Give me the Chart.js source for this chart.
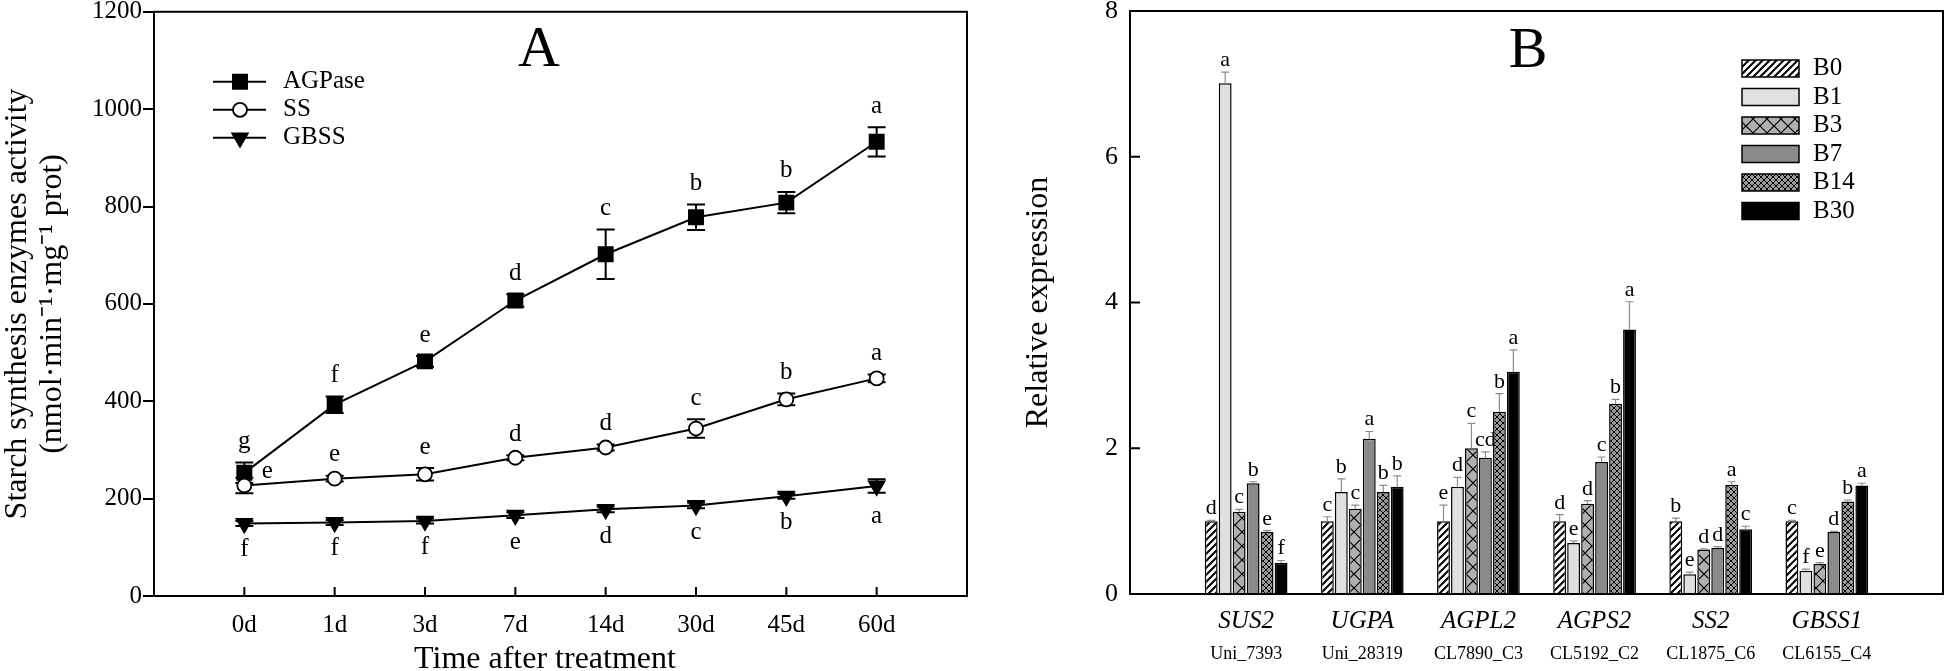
<!DOCTYPE html>
<html>
<head>
<meta charset="utf-8">
<script src="https://cdn.jsdelivr.net/npm/chart.js@4.4.1/dist/chart.umd.min.js"></script>
<style>
  html, body { margin: 0; padding: 0; background: #fff; }
  #wrap { position: relative; width: 1946px; height: 671px; }
  #chartA { position: absolute; left: 0; top: 0; }
  #chartB { position: absolute; left: 990px; top: 0; }
</style>
</head>
<body>
<div id="wrap">
  <canvas id="chartA" width="990" height="671"></canvas>
  <canvas id="chartB" width="956" height="671"></canvas>
</div>
<script>
// Panel A data - starch synthesis enzyme activity
const days = ['0d', '1d', '3d', '7d', '14d', '30d', '45d', '60d'];
const yTicksA = [0, 200, 400, 600, 800, 1000, 1200];
const agpase = [253, 393, 482, 607, 702, 778, 808, 933];
const agpaseErr = [21, 17, 11, 13, 51, 26, 22, 30];
const agpaseSig = ['g', 'f', 'e', 'd', 'c', 'b', 'b', 'a'];
const ss = [227, 241, 250, 284, 305, 344, 404, 447];
const ssErr = [16, 6, 13, 5, 6, 19, 12, 8];
const ssSig = ['e', 'e', 'e', 'd', 'd', 'c', 'b', 'a'];
const gbss = [149, 151, 154, 166, 178, 186, 205, 226];
const gbssErr = [5, 5, 5, 6, 6, 6, 5, 14];
const gbssSig = ['f', 'f', 'f', 'e', 'd', 'c', 'b', 'a'];

// Panel B data - relative expression per treatment, one value per gene
const genes = ['SUS2', 'UGPA', 'AGPL2', 'AGPS2', 'SS2', 'GBSS1'];
const geneIds = ['Uni_7393', 'Uni_28319', 'CL7890_C3', 'CL5192_C2', 'CL1875_C6', 'CL6155_C4'];
const treatments = ['B0', 'B1', 'B3', 'B7', 'B14', 'B30'];
const yTicksB = [0, 2, 4, 6, 8];
const exprB0 = [1.00, 1.00, 1.00, 1.00, 1.00, 1.00];
const exprB1 = [7.01, 1.40, 1.47, 0.70, 0.27, 0.32];
const exprB3 = [1.13, 1.17, 2.00, 1.24, 0.61, 0.41];
const exprB7 = [1.52, 2.13, 1.87, 1.81, 0.63, 0.85];
const exprB14 = [0.85, 1.40, 2.50, 2.61, 1.50, 1.27];
const exprB30 = [0.43, 1.47, 3.05, 3.63, 0.89, 1.49];
const errB0 = [0.01, 0.06, 0.22, 0.09, 0.04, 0.01];
const errB1 = [0.15, 0.18, 0.13, 0.03, 0.03, 0.02];
const errB3 = [0.03, 0.05, 0.34, 0.04, 0.01, 0.02];
const errB7 = [0.02, 0.10, 0.08, 0.07, 0.02, 0.01];
const errB14 = [0.02, 0.09, 0.25, 0.06, 0.04, 0.02];
const errB30 = [0.03, 0.15, 0.30, 0.38, 0.04, 0.03];
const sigB0 = ['d', 'c', 'e', 'd', 'b', 'c'];
const sigB1 = ['a', 'b', 'd', 'e', 'e', 'f'];
const sigB3 = ['c', 'c', 'c', 'd', 'd', 'e'];
const sigB7 = ['b', 'a', 'cd', 'c', 'd', 'd'];
const sigB14 = ['e', 'b', 'b', 'b', 'a', 'b'];
const sigB30 = ['f', 'b', 'a', 'a', 'c', 'a'];

const exprB = [exprB0, exprB1, exprB3, exprB7, exprB14, exprB30];
const errB = [errB0, errB1, errB3, errB7, errB14, errB30];
const sigB = [sigB0, sigB1, sigB3, sigB7, sigB14, sigB30];

const serif = '"Liberation Serif", "Times New Roman", serif';
Chart.defaults.font.family = serif;
Chart.defaults.color = '#000';

function pts(arr) {
  return arr.map((v, i) => ({ x: i, y: v }));
}

// fill patterns for the bars
function pattern(bg, size, lw, lines) {
  const c = document.createElement('canvas');
  c.width = size; c.height = size;
  const g = c.getContext('2d');
  g.fillStyle = bg;
  g.fillRect(0, 0, size, size);
  g.strokeStyle = '#000';
  g.lineWidth = lw;
  g.beginPath();
  lines(g, size);
  g.stroke();
  return g.createPattern(c, 'repeat');
}
const diag = (g, s) => {
  g.moveTo(0, s); g.lineTo(s, 0);
  g.moveTo(-2, 2); g.lineTo(2, -2);
  g.moveTo(s - 2, s + 2); g.lineTo(s + 2, s - 2);
};
const cross = (g, s) => {
  g.moveTo(0, 0); g.lineTo(s, s);
  g.moveTo(0, s); g.lineTo(s, 0);
};
const fills = [
  pattern('#fff', 7, 2, diag),
  '#e0e0e0',
  pattern('#b0b0b0', 14, 1.2, cross),
  '#8a8a8a',
  pattern('#9a9a9a', 6, 1, cross),
  '#000'
];

const seriesA = [
  { label: 'AGPase', vals: agpase, err: agpaseErr, sig: agpaseSig, style: 'rect', radius: 10, rot: 0, fill: '#000' },
  { label: 'SS', vals: ss, err: ssErr, sig: ssSig, style: 'circle', radius: 7, rot: 0, fill: '#fff' },
  { label: 'GBSS', vals: gbss, err: gbssErr, sig: gbssSig, style: 'triangle', radius: 9, rot: 180, fill: '#000' }
];

const panelA = {
  id: 'panelA',
  beforeDatasetsDraw(chart) {
    const { ctx, scales: { x, y } } = chart;
    ctx.save();
    ctx.strokeStyle = '#000';
    ctx.lineWidth = 2;
    seriesA.forEach(s => {
      s.vals.forEach((v, i) => {
        const px = x.getPixelForValue(i);
        const top = y.getPixelForValue(v + s.err[i]);
        const bot = y.getPixelForValue(v - s.err[i]);
        ctx.beginPath();
        ctx.moveTo(px, top); ctx.lineTo(px, bot);
        ctx.moveTo(px - 9, top); ctx.lineTo(px + 9, top);
        ctx.moveTo(px - 9, bot); ctx.lineTo(px + 9, bot);
        ctx.stroke();
      });
    });
    ctx.restore();
  },
  afterDraw(chart) {
    const { ctx, chartArea: a, scales: { x, y } } = chart;
    ctx.save();
    ctx.strokeStyle = '#000';
    ctx.lineWidth = 2;
    ctx.strokeRect(a.left, a.top, a.right - a.left, a.bottom - a.top);
    // inward ticks on the time axis
    ctx.beginPath();
    days.forEach((d, i) => {
      const px = x.getPixelForValue(i);
      ctx.moveTo(px, a.bottom); ctx.lineTo(px, a.bottom - 9);
    });
    ctx.stroke();

    // significance letters
    ctx.fillStyle = '#000';
    ctx.font = '25px ' + serif;
    ctx.textAlign = 'center';
    ctx.textBaseline = 'middle';
    seriesA.forEach((s, k) => {
      s.vals.forEach((v, i) => {
        const px = x.getPixelForValue(i);
        if (k === 2) {
          ctx.fillText(s.sig[i], px, y.getPixelForValue(v - s.err[i]) + 24);
        } else if (k === 1 && i === 0) {
          ctx.fillText(s.sig[i], px + 23, y.getPixelForValue(v) - 14);
        } else {
          ctx.fillText(s.sig[i], px, y.getPixelForValue(v + s.err[i]) - 21);
        }
      });
    });

    // axis title, set a little left of centre as in the original
    ctx.font = '32px ' + serif;
    ctx.textBaseline = 'alphabetic';
    ctx.fillText('Time after treatment', a.left + 391, 668);

    ctx.font = '58px ' + serif;
    ctx.fillText('A', a.left + 385, a.top + 54);

    // legend
    ctx.font = '25px ' + serif;
    ctx.textAlign = 'left';
    ctx.textBaseline = 'middle';
    seriesA.forEach((s, k) => {
      const ly = a.top + 70 + k * 28;
      const lx = a.left + 59;
      ctx.lineWidth = 2;
      ctx.beginPath();
      ctx.moveTo(lx, ly); ctx.lineTo(lx + 53, ly);
      ctx.stroke();
      ctx.fillStyle = s.fill;
      ctx.lineWidth = 1.8;
      Chart.helpers.drawPoint(ctx, { pointStyle: s.style, radius: s.radius, rotation: s.rot, borderWidth: 1.8 }, lx + 27, ly);
      ctx.fillStyle = '#000';
      ctx.fillText(s.label, lx + 70, ly);
    });
    ctx.restore();
  }
};

new Chart(document.getElementById('chartA'), {
  type: 'line',
  data: {
    datasets: seriesA.map((s, k) => ({
      label: s.label,
      data: pts(s.vals),
      borderColor: '#000',
      borderWidth: 2,
      pointStyle: s.style,
      pointRadius: s.radius,
      pointRotation: s.rot,
      pointBackgroundColor: s.fill,
      pointBorderColor: '#000',
      pointBorderWidth: 1.8,
      order: [1, 0, 2][k]
    }))
  },
  options: {
    responsive: false,
    animation: false,
    layout: { padding: { left: 0, top: 11, right: 23, bottom: 0 } },
    plugins: { legend: { display: false }, tooltip: { enabled: false } },
    scales: {
      x: {
        type: 'linear',
        min: -1,
        max: days.length,
        afterBuildTicks: s => { s.ticks = days.map((d, i) => ({ value: i })); },
        afterFit: s => { s.height = 75; s.paddingLeft = 0; s.paddingRight = 0; },
        grid: { display: false, drawTicks: false },
        border: { display: false },
        ticks: { autoSkip: false, maxRotation: 0, padding: 14, font: { size: 25 }, callback: v => days[v] }
      },
      y: {
        min: yTicksA[0],
        max: yTicksA[yTicksA.length - 1],
        afterBuildTicks: s => { s.ticks = yTicksA.map(v => ({ value: v })); },
        afterFit: s => { s.width = 154; s.paddingTop = 0; s.paddingBottom = 0; },
        grid: { display: true, drawOnChartArea: false, drawTicks: true, tickLength: 11, color: '#000', lineWidth: 2 },
        border: { display: false },
        ticks: { padding: 1, font: { size: 25 }, callback: v => String(v) },
        title: {
          display: true,
          text: ['Starch synthesis enzymes activity', '(nmol\u00b7min\u207b\u00b9\u00b7mg\u207b\u00b9 prot)'],
          font: { size: 32, lineHeight: 1.1 },
          padding: { top: 0, bottom: 0 }
        }
      }
    }
  },
  plugins: [panelA]
});

const panelB = {
  id: 'panelB',
  afterDatasetsDraw(chart) {
    const { ctx, scales: { y } } = chart;
    ctx.save();
    ctx.font = '22px ' + serif;
    ctx.textAlign = 'center';
    ctx.textBaseline = 'alphabetic';
    exprB.forEach((vals, k) => {
      const meta = chart.getDatasetMeta(k);
      vals.forEach((v, g) => {
        const bar = meta.data[g + 1];
        const top = y.getPixelForValue(v + errB[k][g]);
        ctx.strokeStyle = '#8c8c8c';
        ctx.lineWidth = 1.2;
        ctx.beginPath();
        ctx.moveTo(bar.x, bar.y); ctx.lineTo(bar.x, top);
        ctx.moveTo(bar.x - 4, top); ctx.lineTo(bar.x + 4, top);
        ctx.stroke();
        ctx.fillStyle = '#000';
        ctx.fillText(sigB[k][g], bar.x, top - 6);
      });
    });
    ctx.restore();
  },
  afterDraw(chart) {
    const { ctx, chartArea: a, scales: { x, y } } = chart;
    ctx.save();
    ctx.strokeStyle = '#000';
    ctx.lineWidth = 2;
    ctx.strokeRect(a.left, a.top, a.right - a.left, a.bottom - a.top);
    ctx.beginPath();
    yTicksB.slice(1, -1).forEach(v => {
      const py = y.getPixelForValue(v);
      ctx.moveTo(a.left, py); ctx.lineTo(a.left + 10, py);
    });
    ctx.stroke();

    // accession ids under the gene names
    ctx.fillStyle = '#000';
    ctx.font = '18px ' + serif;
    ctx.textAlign = 'center';
    ctx.textBaseline = 'middle';
    geneIds.forEach((id, g) => ctx.fillText(id, x.getPixelForValue(g + 1), a.bottom + 60));

    ctx.font = '58px ' + serif;
    ctx.textBaseline = 'alphabetic';
    ctx.fillText('B', a.right - 415, a.top + 56);

    // legend
    ctx.font = '25px ' + serif;
    ctx.textAlign = 'left';
    ctx.textBaseline = 'middle';
    treatments.forEach((t, k) => {
      const cy = a.top + 57.5 + k * 28.5;
      const lx = a.right - 201;
      ctx.fillStyle = fills[k];
      ctx.fillRect(lx, cy - 8.5, 57, 17);
      ctx.lineWidth = 1.5;
      ctx.strokeRect(lx, cy - 8.5, 57, 17);
      ctx.fillStyle = '#000';
      ctx.fillText(t, a.right - 130, cy);
    });
    ctx.restore();
  }
};

new Chart(document.getElementById('chartB'), {
  type: 'bar',
  data: {
    labels: ['', ...genes, ''],
    datasets: treatments.map((t, k) => ({
      label: t,
      data: [null, ...exprB[k], null],
      backgroundColor: fills[k],
      borderColor: '#000',
      borderWidth: 1.5,
      categoryPercentage: 0.722,
      barPercentage: 0.92
    }))
  },
  options: {
    responsive: false,
    animation: false,
    layout: { padding: { left: 0, top: 11, right: 3, bottom: 0 } },
    plugins: { legend: { display: false }, tooltip: { enabled: false } },
    scales: {
      x: {
        offset: false,
        afterFit: s => { s.height = 77; s.paddingLeft = 0; s.paddingRight = 0; },
        grid: { display: false, drawTicks: false },
        border: { display: false },
        ticks: { autoSkip: false, maxRotation: 0, padding: 12, font: { size: 25, style: 'italic' } }
      },
      y: {
        min: yTicksB[0],
        max: yTicksB[yTicksB.length - 1],
        afterBuildTicks: s => { s.ticks = yTicksB.map(v => ({ value: v })); },
        afterFit: s => { s.width = 140; s.paddingTop = 0; s.paddingBottom = 0; },
        grid: { display: false, drawTicks: false },
        border: { display: false },
        ticks: { padding: 12, font: { size: 26 } },
        title: { display: true, text: 'Relative expression', font: { size: 32 }, padding: { top: 29, bottom: 0 } }
      }
    }
  },
  plugins: [panelB]
});
</script>
</body>
</html>
